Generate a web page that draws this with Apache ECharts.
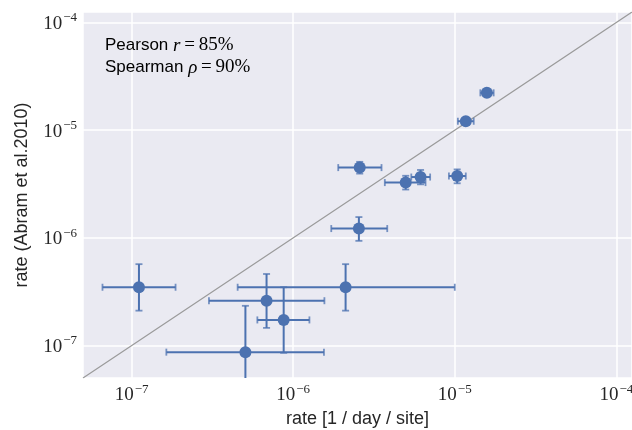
<!DOCTYPE html>
<html>
<head>
<meta charset="utf-8">
<script src="https://cdn.jsdelivr.net/npm/echarts@6/dist/echarts.min.js"></script>
<style>
  html, body { margin: 0; padding: 0; background: #ffffff; }
  #chart { width: 632px; height: 430px; }
</style>
</head>
<body>
<div id="chart"></div>
<script>
// Rates per site: this study (x) against Abram et al. 2010 (y), with error bounds
const xCenters = [1.11e-7, 5.06e-7, 6.84e-7, 8.73e-7, 2.11e-6, 2.55e-6, 2.58e-6, 4.97e-6, 6.14e-6, 1.035e-5, 1.17e-5, 1.58e-5];
const xLower   = [6.6e-8, 1.64e-7, 3.01e-7, 6.0e-7, 4.53e-7, 1.72e-6, 1.90e-6, 3.69e-6, 5.38e-6, 9.2e-6, 1.045e-5, 1.44e-5];
const xUpper   = [1.87e-7, 1.55e-6, 1.56e-6, 1.26e-6, 1.0e-5, 3.82e-6, 3.52e-6, 6.59e-6, 7.04e-6, 1.17e-5, 1.31e-5, 1.74e-5];
const yCenters = [3.48e-7, 8.69e-8, 2.61e-7, 1.73e-7, 3.48e-7, 1.22e-6, 4.49e-6, 3.26e-6, 3.67e-6, 3.75e-6, 1.21e-5, 2.22e-5];
const yLower   = [2.11e-7, 3.2e-8, 1.46e-7, 8.56e-8, 2.11e-7, 9.38e-7, 3.95e-6, 2.81e-6, 3.14e-6, 3.21e-6, 1.13e-5, 2.08e-5];
const yUpper   = [5.70e-7, 2.34e-7, 4.62e-7, 3.48e-7, 5.70e-7, 1.56e-6, 5.08e-6, 3.77e-6, 4.27e-6, 4.32e-6, 1.29e-5, 2.37e-5];

// Shared axis range and the y = x reference line
const axisRange = [5e-8, 1.25e-4];
const tickExponents = ['−7', '−6', '−5', '−4'];

const BLUE = '#4C72B0';
const TEXT = '#262626';

const errorData = xCenters.map((x, i) => [x, yCenters[i], xLower[i], xUpper[i], yLower[i], yUpper[i]]);
const pointData = xCenters.map((x, i) => [x, yCenters[i]]);

function powerLabel(v) {
  const e = Math.log10(v);
  const r = Math.round(e);
  if (Math.abs(e - r) > 1e-6) return '';
  const idx = r + 7;
  const exp = tickExponents[idx] !== undefined ? tickExponents[idx] : String(r).replace('-', '−');
  return '{b|10}{s|' + exp + '}';
}

const labelRich = {
  b: { fontFamily: 'Liberation Serif', fontSize: 19, color: TEXT, lineHeight: 22, verticalAlign: 'bottom' },
  s: { fontFamily: 'Liberation Serif', fontSize: 13, color: TEXT, lineHeight: 22, verticalAlign: 'top', padding: [0, 0, 0, 1] }
};

function renderErrorBars(params, api) {
  const cs = params.coordSys;
  const left = cs.x, right = cs.x + cs.width, top = cs.y, bottom = cs.y + cs.height;
  const x = api.value(0), y = api.value(1);
  const c = api.coord([x, y]);
  const xl = api.coord([api.value(2), y])[0];
  const xh = api.coord([api.value(3), y])[0];
  const yl = api.coord([x, api.value(4)])[1];
  const yh = api.coord([x, api.value(5)])[1];
  const cap = 3.5;
  const lineStyle = { stroke: BLUE, lineWidth: 2 };
  const capStyle = { stroke: BLUE, lineWidth: 1.8, opacity: 0.75 };
  const clampX = v => Math.max(left, Math.min(right, v));
  const clampY = v => Math.max(top, Math.min(bottom, v));
  const children = [
    { type: 'line', shape: { x1: clampX(xl), y1: c[1], x2: clampX(xh), y2: c[1] }, style: lineStyle },
    { type: 'line', shape: { x1: c[0], y1: clampY(yh), x2: c[0], y2: clampY(yl) }, style: lineStyle }
  ];
  if (xl >= left) children.push({ type: 'line', shape: { x1: xl, y1: c[1] - cap, x2: xl, y2: c[1] + cap }, style: capStyle });
  if (xh <= right) children.push({ type: 'line', shape: { x1: xh, y1: c[1] - cap, x2: xh, y2: c[1] + cap }, style: capStyle });
  if (yh >= top) children.push({ type: 'line', shape: { x1: c[0] - cap, y1: yh, x2: c[0] + cap, y2: yh }, style: capStyle });
  if (yl <= bottom) children.push({ type: 'line', shape: { x1: c[0] - cap, y1: yl, x2: c[0] + cap, y2: yl }, style: capStyle });
  return { type: 'group', children };
}

const chart = echarts.init(document.getElementById('chart'), null, { renderer: 'canvas' });

const axisCommon = {
  type: 'log',
  logBase: 10,
  min: axisRange[0],
  max: axisRange[1],
  axisLine: { show: false },
  axisTick: { show: false },
  splitLine: { show: true, lineStyle: { color: '#ffffff', width: 1.5 } },
  minorTick: { show: false },
  minorSplitLine: { show: false },
  nameLocation: 'middle',
  nameTextStyle: { fontFamily: 'Liberation Sans', fontSize: 18, color: TEXT }
};

chart.setOption({
  animation: false,
  backgroundColor: '#ffffff',
  grid: {
    left: 83, right: 0, top: 12, bottom: 52,
    containLabel: false,
    outerBoundsMode: 'none',
    show: true, backgroundColor: '#EAEAF2', borderWidth: 0
  },
  xAxis: Object.assign({}, axisCommon, {
    name: 'rate [1 / day / site]',
    nameGap: 28,
    axisLabel: { formatter: powerLabel, rich: labelRich, margin: 5, showMinLabel: false, showMaxLabel: false, hideOverlap: false }
  }),
  yAxis: Object.assign({}, axisCommon, {
    name: 'rate (Abram et al.2010)',
    nameGap: 52,
    axisLabel: { formatter: powerLabel, rich: labelRich, margin: 6, showMinLabel: false, showMaxLabel: false, hideOverlap: false }
  }),
  series: [
    {
      type: 'line',
      data: [[axisRange[0], axisRange[0]], [axisRange[1], axisRange[1]]],
      showSymbol: false,
      silent: true,
      lineStyle: { color: '#999999', width: 1.1 },
      z: 1
    },
    {
      type: 'custom',
      renderItem: renderErrorBars,
      data: errorData,
      silent: true,
      z: 2
    },
    {
      type: 'scatter',
      data: pointData,
      symbol: 'circle',
      symbolSize: 12,
      itemStyle: { color: BLUE, opacity: 1 },
      silent: true,
      z: 3
    }
  ],
  graphic: [
    {
      type: 'text',
      left: 105,
      top: 36,
      style: {
        text: '{s|Pearson }{i|r}{m|\u2009=\u200985%}\n{s|Spearman }{i|ρ}{m|\u2009=\u200990%}',
        rich: {
          s: { fontFamily: 'Liberation Sans', fontSize: 17, color: TEXT, lineHeight: 22 },
          i: { fontFamily: 'Liberation Serif', fontStyle: 'italic', fontSize: 19, color: TEXT, lineHeight: 22 },
          m: { fontFamily: 'Liberation Serif', fontSize: 19, color: TEXT, lineHeight: 22 }
        }
      },
      z: 10
    }
  ]
});
</script>
</body>
</html>
